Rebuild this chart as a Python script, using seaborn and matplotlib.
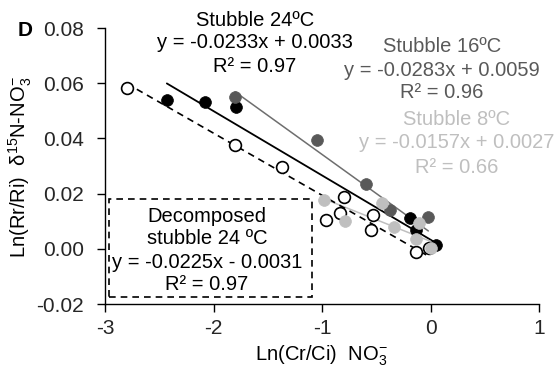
import matplotlib
matplotlib.use("Agg")
import matplotlib.pyplot as plt
import seaborn as sns
import pandas as pd
import numpy as np
from matplotlib.patches import Rectangle

# ---- data ----
x24 = [-2.43, -2.08, -1.79, -0.19, -0.13, 0.05]
y24 = [0.0539, 0.0533, 0.0515, 0.0111, 0.0068, 0.0014]

x16 = [-1.80, -1.05, -0.59, -0.37, -0.02]
y16 = [0.0549, 0.0394, 0.0234, 0.0141, 0.0116]

x8 = [-0.98, -0.79, -0.45, -0.34, -0.11, -0.13, 0.00]
y8 = [0.0177, 0.0102, 0.0167, 0.0078, 0.0095, 0.0034, 0.0002]

xdec = [-2.80, -1.80, -1.37, -0.80, -0.83, -0.96, -0.53, -0.55, -0.13, -0.01]
ydec = [0.0582, 0.0376, 0.0295, 0.0187, 0.0131, 0.0104, 0.0122, 0.0068, -0.0011, 0.0002]

# trend line equations (slope, intercept) as printed
fit24 = (-0.0233, 0.0033)
fit16 = (-0.0283, 0.0059)
fit8 = (-0.0157, 0.0027)
fitdec = (-0.0225, -0.0031)

xticks = [-3, -2, -1, 0, 1]
yticks = [-0.02, 0.00, 0.02, 0.04, 0.06, 0.08]

W, H = 559, 372
sns.set_theme(style="white")
plt.rcParams['font.family'] = ['Liberation Sans', 'DejaVu Sans']
plt.rcParams['mathtext.fontset'] = 'custom'
plt.rcParams['mathtext.rm'] = 'Liberation Sans'
plt.rcParams['mathtext.it'] = 'Liberation Sans:italic'
plt.rcParams['mathtext.default'] = 'rm'

fig = plt.figure(figsize=(W / 100, H / 100), dpi=100)
ax = fig.add_axes([105 / W, 1 - 304 / H, (539 - 105) / W, (304 - 28) / H])

def trend(xs, fit):
    xr = np.array([min(xs), max(xs)])
    return pd.DataFrame({"x": xr, "y": fit[0] * xr + fit[1]})

# trend lines
t = trend(x24, fit24)
sns.lineplot(data=t, x="x", y="y", ax=ax, color="black", lw=1.3, zorder=2)
t = trend(x16, fit16)
sns.lineplot(data=t, x="x", y="y", ax=ax, color="#6e6e6e", lw=1.1, zorder=2)
t = trend(x8, fit8)
sns.lineplot(data=t, x="x", y="y", ax=ax, color="#bfbfbf", lw=1.1, zorder=2)
t = trend(xdec, fitdec)
sns.lineplot(data=t, x="x", y="y", ax=ax, color="black", lw=1.2, zorder=2,
             linestyle=(0, (4, 3)))

ms = 72
sns.scatterplot(x=x24, y=y24, ax=ax, color="black", s=ms, edgecolor="black", linewidth=0.5, zorder=3)
sns.scatterplot(x=xdec, y=ydec, ax=ax, color="white", s=ms, edgecolor="black", linewidth=1.2, zorder=4)
sns.scatterplot(x=x16, y=y16, ax=ax, color="#595959", s=ms, edgecolor="#595959", linewidth=0.5, zorder=5)
sns.scatterplot(x=x8, y=y8, ax=ax, color="#bfbfbf", s=ms, edgecolor="#bfbfbf", linewidth=0.5, zorder=6)

ax.set_xlim(-3, 1)
ax.set_ylim(-0.02, 0.08)
ax.set_xticks(xticks)
ax.set_xticklabels([str(v) for v in xticks])
ax.set_yticks(yticks)
ax.set_yticklabels([f"{v:.2f}" for v in yticks])
for s in ["top", "right"]:
    ax.spines[s].set_visible(False)
for s in ["left", "bottom"]:
    ax.spines[s].set_color("black")
    ax.spines[s].set_linewidth(1.0)
ax.tick_params(axis="both", direction="out", length=6, width=1.0, color="black",
               labelsize=15, bottom=True, left=True)
ax.tick_params(axis="y", pad=9)
ax.tick_params(axis="x", pad=5)
ax.grid(False)
ax.set_xlabel("")
ax.set_ylabel("")

def ftext(px, py, s, color="black", size=14.5, **kw):
    fig.text(px / W, 1 - py / H, s, color=color, fontsize=size,
             ha="center", va="center", **kw)

ftext(321, 356, "Ln(Cr/Ci)  NO$_3^{-}$", size=14.5)
ftext(20, 167, "Ln(Rr/Ri)  δ$^{15}$N-NO$_3^{-}$", size=14.5, rotation=90)
ftext(25, 30, "D", size=15, fontweight="bold")

ftext(255, 20, "Stubble 24ºC")
ftext(255, 43, "y = -0.0233x + 0.0033")
ftext(255, 66, "R² = 0.97")

g16 = "#595959"
ftext(442, 47, "Stubble 16ºC", color=g16)
ftext(442, 70, "y = -0.0283x + 0.0059", color=g16)
ftext(442, 93, "R² = 0.96", color=g16)

g8 = "#bfbfbf"
ftext(457, 120, "Stubble 8ºC", color=g8)
ftext(457, 143, "y = -0.0157x + 0.0027", color=g8)
ftext(457, 167, "R² = 0.66", color=g8)

# dashed box around the decomposed label
rect = Rectangle((109 / W, 1 - 297 / H), (312 - 109) / W, (297 - 199) / H,
                 transform=fig.transFigure, fill=False, edgecolor="black",
                 lw=1.2, linestyle=(0, (4, 3)), zorder=10)
fig.patches.append(rect)
ftext(207, 216, "Decomposed")
ftext(207, 239, "stubble 24 ºC")
ftext(207, 262, "y = -0.0225x - 0.0031")
ftext(207, 285, "R² = 0.97")

fig.savefig("out.png", dpi=100)
